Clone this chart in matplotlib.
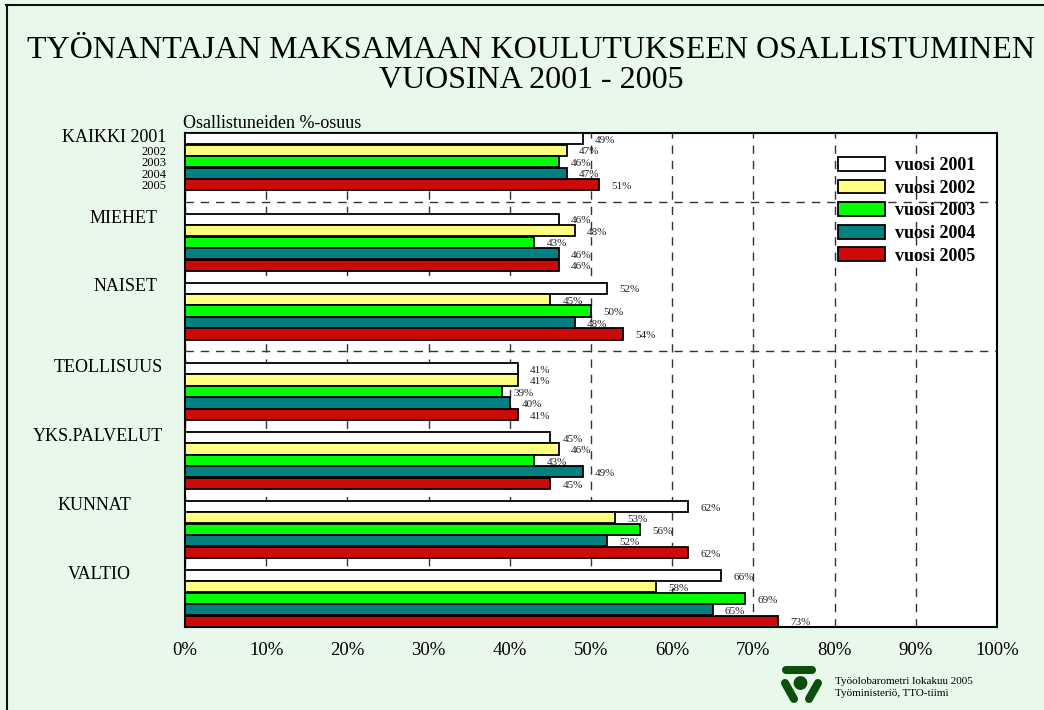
import matplotlib.pyplot as plt
import matplotlib.transforms as mtransforms
from matplotlib.lines import Line2D
import numpy as np

# --- data ---
categories = ['KAIKKI 2001', 'MIEHET', 'NAISET', 'TEOLLISUUS', 'YKS.PALVELUT', 'KUNNAT', 'VALTIO']
years = ['2001', '2002', '2003', '2004', '2005']
v2001 = [49, 46, 52, 41, 45, 62, 66]
v2002 = [47, 48, 45, 41, 46, 53, 58]
v2003 = [46, 43, 50, 39, 43, 56, 69]
v2004 = [47, 46, 48, 40, 49, 52, 65]
v2005 = [51, 46, 54, 41, 45, 62, 73]
series = [v2001, v2002, v2003, v2004, v2005]
legend_labels = ['vuosi 2001', 'vuosi 2002', 'vuosi 2003', 'vuosi 2004', 'vuosi 2005']
xticks = [0, 10, 20, 30, 40, 50, 60, 70, 80, 90, 100]

colors = ['#FFFFFF', '#FFFF80', '#00FF00', '#008080', '#CC0A0A']
bg = '#E8F8EA'
W, H = 1044, 710

plt.rcParams['font.family'] = ['Liberation Serif', 'DejaVu Serif']

fig = plt.figure(figsize=(W / 100, H / 100), dpi=100, facecolor=bg)

def fx(px):
    return px / W

def fy(py):
    return 1 - py / H

ax = fig.add_axes([fx(185), fy(627), fx(997) - fx(185), (627 - 133) / H])
ax.set_facecolor('white')

# group layout in bar slots (extra gap after groups 1 and 3)
gaps = [2, 1, 2, 1, 1, 1]
starts = [0]
for g in gaps:
    starts.append(starts[-1] + 5 + g)
starts = np.array(starts)
total = starts[-1] + 5

for i, (vals, col) in enumerate(zip(series, colors)):
    ypos = starts + i + 0.5
    ax.barh(ypos, vals, height=0.97, color=col, edgecolor='black', linewidth=1.3,
            label=legend_labels[i], zorder=3)
    for y, v in zip(ypos, vals):
        ax.text(v + 1.5, y + 0.15, f'{v}%', fontsize=8, va='center', ha='left',
                color='#222222', zorder=4)

ax.set_xlim(0, 100)
ax.set_ylim(total, 0)
ax.set_xticks(xticks)
ax.set_xticklabels([f'{t}%' for t in xticks], fontsize=13.5)
ax.tick_params(axis='x', length=0, pad=11)
ax.set_yticks([])
ax.grid(axis='x', linestyle=(0, (6, 5)), color='#333333', linewidth=1)
ax.set_axisbelow(True)
for s in ax.spines.values():
    s.set_linewidth(1.5)

# separators
for sep in [starts[1] - 1, starts[3] - 1]:
    ax.axhline(sep, color='#333333', linestyle=(0, (6, 5)), linewidth=1, zorder=2)

# category labels
trans = mtransforms.blended_transform_factory(fig.transFigure, ax.transData)
label_x = [166, 158, 158, 163, 163, 131, 131]
for k, cat in enumerate(categories):
    y = starts[k] + 0.5
    ax.text(fx(label_x[k]), y - 0.1, cat, transform=trans, ha='right', va='center', fontsize=13)
    if k == 0:
        for i, yr in enumerate(years[1:]):
            ax.text(fx(166), y + i + 1.12, yr, transform=trans, ha='right', va='center',
                    fontsize=9)

fig.text(fx(183), fy(124), 'Osallistuneiden %-osuus', fontsize=13, ha='left', va='center')

# legend
ax.legend(loc='upper left', bbox_to_anchor=(fx(838), fy(157)), bbox_transform=fig.transFigure,
          frameon=False, prop={'weight': 'bold', 'size': 13}, handlelength=2.6,
          handleheight=0.8, handletextpad=0.55, labelspacing=0.3, borderpad=0,
          borderaxespad=0)

# title
fig.text(fx(531), fy(50), 'TYÖNANTAJAN MAKSAMAAN KOULUTUKSEEN OSALLISTUMINEN',
         ha='center', va='center', fontsize=23)
fig.text(fx(531), fy(81), 'VUOSINA 2001 - 2005', ha='center', va='center', fontsize=23)

# frame lines
fig.add_artist(Line2D([fx(6.5), fx(6.5)], [fy(5), 0], transform=fig.transFigure,
                      color='#111111', linewidth=1.5))
fig.add_artist(Line2D([fx(6), 1], [fy(5), fy(5)], transform=fig.transFigure,
                      color='#111111', linewidth=1.5))

# logo
lax = fig.add_axes([fx(775), fy(708), fx(830) - fx(775), (708 - 660) / H])
lax.set_xlim(775, 830)
lax.set_ylim(708, 660)
lax.axis('off')
logo = '#0B4F0B'
lw = 5.8
lax.plot([786, 812], [670, 670], color=logo, linewidth=lw, solid_capstyle='round')
lax.plot([785, 794], [683, 699], color=logo, linewidth=lw, solid_capstyle='round')
lax.plot([818, 809], [683, 699], color=logo, linewidth=lw, solid_capstyle='round')
lax.add_patch(plt.Circle((800.5, 683), 6.2, color=logo))

fig.text(fx(835), fy(681), 'Työolobarometri lokakuu 2005', fontsize=8, ha='left', va='center')
fig.text(fx(835), fy(694), 'Työministeriö, TTO-tiimi', fontsize=8, ha='left', va='center')

fig.savefig('out.png', dpi=100, facecolor=bg)
